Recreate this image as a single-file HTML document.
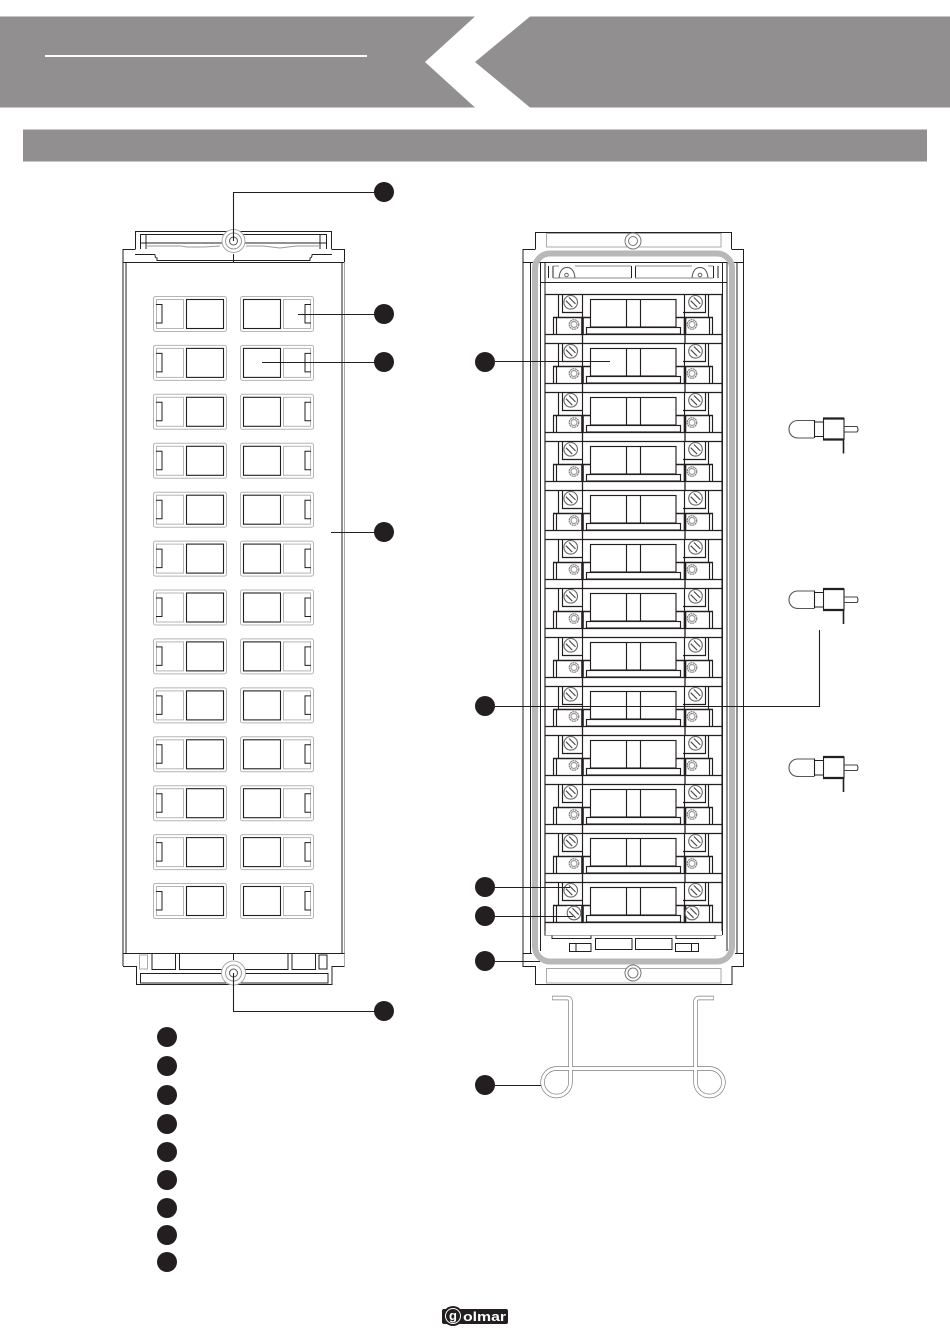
<!DOCTYPE html>
<html><head><meta charset="utf-8"><style>
html,body{margin:0;padding:0;background:#fff;width:950px;height:1344px;overflow:hidden}
svg{display:block}
</style></head><body>
<svg width="950" height="1344" viewBox="0 0 950 1344" xmlns="http://www.w3.org/2000/svg" fill="none" stroke-linecap="butt">
<defs>
<g id="cell">
<rect x="153.5" y="296.5" width="73" height="35" rx="2" stroke="#b5b5b5"/>
<rect x="156.5" y="299.5" width="27" height="29" stroke="#b5b5b5"/>
<rect x="186.5" y="299.5" width="37" height="29" stroke="#231f20" stroke-width="1.1"/>
<path d="M156 304.5H162V323H156" stroke="#231f20"/>
<rect x="240.5" y="296.5" width="73" height="35" rx="2" stroke="#b5b5b5"/>
<rect x="283.5" y="299.5" width="27" height="29" stroke="#b5b5b5"/>
<rect x="243.5" y="299.5" width="37" height="29" stroke="#231f20" stroke-width="1.1"/>
<path d="M311 304.5H305V323H311" stroke="#231f20"/>
</g>
<g id="screw">
<circle cx="0" cy="0" r="6.8" fill="#fff" stroke="#666" stroke-width="1.1"/>
<path d="M-4.8 -1.6L1.6 4.8M-1.6 -4.8L4.8 1.6" stroke="#444" stroke-width="1.1"/>
</g>
<g id="nutS">
<circle cx="0" cy="0" r="4.8" stroke="#777" stroke-dasharray="2 .6"/>
<circle cx="0" cy="0" r="3" stroke="#999"/>
</g>
<g id="mod" stroke="#231f20" stroke-width="1.15">
<path d="M545 294.5H722M545 334.5H722M545 294V343M722 294V343"/>
<path d="M558.5 294.5V317M562.5 294.5V312.5H583M683 312.5H705.5V294.5M708.5 294.5V317"/>
<path d="M553.5 317.5V334M556.5 317.5V334M712.5 317.5V334M709.5 317.5V334"/>
<path d="M553 317.5H590M676 317.5H713" stroke-width="1.5"/>
<path d="M582.5 294V317M684.5 294V317"/>
<path d="M582.5 317V334M685 317V334" stroke-width="2.6"/>
<path d="M582.5 334V343M685 334V343" stroke-width="1.3"/>
<rect x="590.5" y="299.5" width="85.5" height="27.5" fill="#fff"/>
<path d="M626.5 299.5V327M640.5 299.5V327"/>
<rect x="586.5" y="327.5" width="94" height="6.5" fill="#fff"/>
<use href="#screw" x="570.7" y="302.3"/>
<use href="#screw" x="695.5" y="302.3"/>
<use href="#nutS" x="574" y="324.5"/>
<use href="#nutS" x="692" y="324.5"/>
</g>
<g id="bulb" stroke="#231f20" stroke-width="1.1">
<path d="M814 420.5H798C786 420.5 786 438 798 438H814" stroke="#555"/>
<path d="M814.5 420V438M814 422H823M814 436.5H823"/>
<rect x="823.5" y="418.5" width="20.5" height="21"/>
<path d="M823 418.5H844M823 439.5H844" stroke-width="2.2"/>
<path d="M844 426.5H857Q859 429.5 857 432H844" stroke="#444"/>
<path d="M843.5 440V453.5" stroke-width="1.6"/>
</g>
</defs>

<!-- header -->
<path d="M0 16.5H475L425 62L475 107.5H0Z" fill="#918f90"/>
<path d="M950 16.5H530L475 62L530 107.5H950Z" fill="#918f90"/>
<rect x="45" y="55" width="322" height="2" fill="#fff"/>
<rect x="23" y="129.5" width="904" height="32" fill="#918f90"/>

<!-- left panel -->
<g stroke="#231f20">
<path d="M135.5 249V231.5H331.5V249"/>
<path d="M140 234.5H326M140 243H326M140.5 234V249M146 234V249M326.5 234V249M320 234V249M135 254.5H155"/>
<path d="M123 262V249.5H135.5M344.5 262V249.5H331.5"/>
<path d="M123 262.5H345" stroke-width="1.1"/>
<path d="M123 262V966M126 262V953"/>
<path d="M342 262V953"/>
<path d="M344.5 262V966" stroke="#aaa"/>
<path d="M155 254.5Q155 258 157 258V261M312 254.5H332M312 254.5Q312 258 310 258V261"/>
<path d="M157 260.5H310"/>
<path d="M233.5 254V262"/>
<path d="M146 246H181L187 247H204L220 246M246 246H263L280 248L296 246H320" stroke="#999"/>
<path d="M123 953.5H344.5M123 966.5H136.5V984.5H332V966.5H344.5"/>
<rect x="140.5" y="973.5" width="187.5" height="9.5"/>
<path d="M152 954V969.5H175.5V954M179.5 954V969.5H226M240 969.5H288V954M292 954V969.5H315.5V954M233.5 953V960"/>
<rect x="319" y="955" width="8" height="14"/>
</g>
<rect x="139.5" y="955" width="8" height="14" stroke="#aaa"/>
<circle cx="233.5" cy="241" r="11.5" fill="#fff" stroke="#aaa"/>
<circle cx="233.5" cy="241" r="8" stroke="#999"/>
<circle cx="233.5" cy="241" r="4" stroke="#555"/>
<circle cx="233.5" cy="973" r="12" fill="#fff" stroke="#aaa"/>
<circle cx="233.5" cy="973" r="8" stroke="#999"/>
<circle cx="233.5" cy="973" r="4" stroke="#555"/>

<use href="#cell"/>
<use href="#cell" y="48.9"/>
<use href="#cell" y="97.8"/>
<use href="#cell" y="146.8"/>
<use href="#cell" y="195.7"/>
<use href="#cell" y="244.6"/>
<use href="#cell" y="293.5"/>
<use href="#cell" y="342.4"/>
<use href="#cell" y="391.4"/>
<use href="#cell" y="440.3"/>
<use href="#cell" y="489.2"/>
<use href="#cell" y="538.1"/>
<use href="#cell" y="587"/>

<!-- right unit -->
<g stroke="#231f20">
<path d="M535.5 249V232.5H731.5V249"/>
<path d="M523 262V249.5H535.5M743.5 262V249.5H731.5"/>
<path d="M523 262.5H744"/>
<path d="M523 262V966.5H535.5V984.5H732V966.5H743.5V262"/>
<path d="M523 953.5H532M735 953.5H744"/>
<path d="M530.5 262V953M737 262V953"/>
<path d="M540.5 262V951M545 262V935M722.5 262V935M727 262V951"/>
<path d="M540 282.5H727"/>
<path d="M548.5 266V278M553 266V278M631.5 266V278M635.5 266V278M713.5 266V278M718 266V278"/>
</g>
<path d="M553 266H559M575 266H631M635 266H692M708 266H713M553 278H631M635 278H713" stroke="#8a8a8a"/>
<path d="M559 278Q560 267.5 567 267.5Q574 267.5 575 278M692 278Q693 267.5 700 267.5Q707 267.5 708 278" stroke="#555"/>
<circle cx="566.5" cy="275" r="1.8" stroke="#666"/>
<circle cx="700" cy="275" r="1.8" stroke="#666"/>
<rect x="546.5" y="233.5" width="174.5" height="13.5" stroke="#aaa"/>
<rect x="546.5" y="968.5" width="174.5" height="14.5" stroke="#aaa"/>
<circle cx="633" cy="241" r="8" fill="#fff" stroke="#777"/>
<circle cx="633" cy="241" r="4.5" stroke="#777"/>
<circle cx="633" cy="973" r="8" fill="#fff" stroke="#777"/>
<circle cx="633" cy="973" r="5" stroke="#777"/>

<use href="#mod"/>
<use href="#mod" y="49"/>
<use href="#mod" y="98"/>
<use href="#mod" y="147"/>
<use href="#mod" y="196"/>
<use href="#mod" y="245"/>
<use href="#mod" y="294"/>
<use href="#mod" y="343"/>
<use href="#mod" y="392"/>
<use href="#mod" y="441"/>
<use href="#mod" y="490"/>
<use href="#mod" y="539"/>
<use href="#mod" y="588"/>
<rect x="546" y="923.2" width="175.5" height="10" fill="#fff"/>
<rect x="567" y="906" width="14" height="15" fill="#fff"/>
<rect x="686.5" y="906" width="13" height="15" fill="#fff"/>
<use href="#screw" x="574" y="913"/>
<use href="#screw" x="692" y="913"/>
<path d="M545 922.5H722" stroke="#231f20" stroke-width="1.15"/>

<path d="M544 935.5H722" stroke="#aaa"/>
<g stroke="#231f20">
<path d="M552 935.5V938.5H591V935.5M676 935.5V938.5H715V935.5"/>
<rect x="569.5" y="943.5" width="21.5" height="8"/>
<path d="M576 943.5V951.5M691.5 943.5V951.5"/>
<rect x="595.5" y="938.5" width="36.5" height="11"/>
<rect x="635.5" y="938.5" width="36.5" height="11"/>
<rect x="675.5" y="943.5" width="23" height="8"/>
</g>
<rect x="535" y="253.5" width="197" height="708" rx="15" stroke="#b8b8b8" stroke-width="6"/>

<!-- wire -->
<path d="M552 998H567Q570.5 998 570.5 1002V1082A14 14 0 0 1 542.5 1082A14 14 0 0 1 556.5 1068.5H709.5A14 14 0 0 1 723.5 1082A14 14 0 0 1 695.5 1082V1002Q695.5 998 699 998H714" stroke="#7f7f7f" stroke-width="4.4"/>
<path d="M552.5 998H567Q570.5 998 570.5 1002V1082A14 14 0 0 1 542.5 1082A14 14 0 0 1 556.5 1068.5H709.5A14 14 0 0 1 723.5 1082A14 14 0 0 1 695.5 1082V1002Q695.5 998 699 998H713.5" stroke="#fff" stroke-width="3"/>

<!-- bulbs -->
<use href="#bulb"/>
<use href="#bulb" y="170.5"/>
<use href="#bulb" y="338.5"/>

<!-- callouts -->
<g stroke="#231f20" stroke-width="1.1">
<path d="M375 192.5H233.5V241"/>
<path d="M375 314.5H298"/>
<path d="M375 362.5H262"/>
<path d="M375 532.5H331"/>
<path d="M375 1011.5H233.5V973"/>
<path d="M495 361.5H610"/>
<path d="M495 706.5H819.5V630"/>
<path d="M495 887.5H570"/>
<path d="M495 916.5H573"/>
<path d="M495 961.5H540"/>
<path d="M495 1085.5H541"/>
</g>
<g fill="#231f20">
<circle cx="384" cy="192" r="10"/>
<circle cx="384" cy="314" r="10"/>
<circle cx="384" cy="362" r="10"/>
<circle cx="384" cy="532" r="10"/>
<circle cx="384" cy="1011" r="10"/>
<circle cx="485" cy="362" r="10"/>
<circle cx="485" cy="706" r="10"/>
<circle cx="485" cy="887" r="10"/>
<circle cx="485" cy="916" r="10"/>
<circle cx="485" cy="961" r="10"/>
<circle cx="485" cy="1085" r="10"/>
<circle cx="167" cy="1037" r="10"/>
<circle cx="167" cy="1066" r="10"/>
<circle cx="167" cy="1095" r="10"/>
<circle cx="167" cy="1124" r="10"/>
<circle cx="167" cy="1152" r="10"/>
<circle cx="167" cy="1180" r="10"/>
<circle cx="167" cy="1208" r="10"/>
<circle cx="167" cy="1235" r="10"/>
<circle cx="167" cy="1262" r="10"/>
</g>

<!-- logo -->
<rect x="442" y="1309" width="66" height="15" rx="2" fill="#231f20"/>
<circle cx="453" cy="1316" r="10" fill="#231f20"/>
<circle cx="453" cy="1316" r="7.5" stroke="#fff" stroke-width="1"/>
<text x="453" y="1320" font-family="'Liberation Sans',sans-serif" font-size="13" font-weight="700" fill="#fff" text-anchor="middle">g</text>
<text x="463" y="1321" font-family="'Liberation Sans',sans-serif" font-size="12.5" font-weight="700" fill="#fff" textLength="43" lengthAdjust="spacingAndGlyphs">olmar</text>
</svg>
</body></html>
